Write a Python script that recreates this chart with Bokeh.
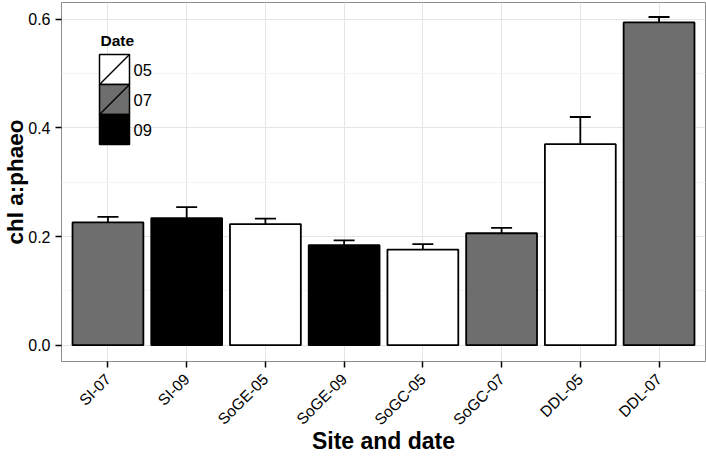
import math
from bokeh.plotting import figure
from bokeh.models import (ColumnDataSource, FactorRange, Range1d, FixedTicker, Whisker, TeeHead,
                          BoxAnnotation, Arrow, Label, NumeralTickFormatter)
from bokeh.embed import file_html
from bokeh.resources import INLINE

# ---- data ----
sites = ["SI-07", "SI-09", "SoGE-05", "SoGE-09", "SoGC-05", "SoGC-07", "DDL-05", "DDL-07"]
dates = ["07", "09", "05", "09", "05", "07", "05", "07"]
means = [0.226, 0.234, 0.223, 0.184, 0.176, 0.206, 0.370, 0.594]
errs = [0.010, 0.020, 0.010, 0.009, 0.010, 0.010, 0.050, 0.010]
date_levels = ["05", "07", "09"]
date_colors = ["#ffffff", "#6e6e6e", "#000000"]
y_ticks = [0.0, 0.2, 0.4, 0.6]
y_minor = [0.1, 0.3, 0.5]

cmap = dict(zip(date_levels, date_colors))
src = ColumnDataSource(dict(
    site=sites, mean=means,
    upper=[m + e for m, e in zip(means, errs)],
    lower=[m - e for m, e in zip(means, errs)],
    color=[cmap[d] for d in dates],
))

FONT = "Liberation Sans"

p = figure(width=706, height=457, output_backend="svg", toolbar_location=None,
           x_range=FactorRange(factors=sites, range_padding=0.09, range_padding_units="absolute"),
           y_range=Range1d(-0.030, 0.6307),
           min_border_left=60, min_border_right=1, min_border_top=2, min_border_bottom=95)

p.vbar(x="site", top="mean", bottom=0, width=0.9, source=src,
       fill_color="color", line_color="black", line_width=1.8)

wh = Whisker(base="site", upper="upper", lower="lower", source=src,
             line_color="black", line_width=1.8,
             upper_head=TeeHead(size=21, line_color="black", line_width=1.8),
             lower_head=TeeHead(size=21, line_color="black", line_width=1.8))
p.add_layout(wh)

p.background_fill_color = "white"
p.outline_line_color = "#8c8c8c"
p.outline_line_width = 1

p.yaxis.ticker = FixedTicker(ticks=y_ticks, minor_ticks=y_minor)
p.yaxis.formatter = NumeralTickFormatter(format="0.0")

for ax in (p.xaxis[0], p.yaxis[0]):
    ax.axis_line_color = None
    ax.major_tick_line_color = "black"
    ax.major_tick_line_width = 1.5
    ax.major_tick_out = 6
    ax.major_tick_in = 0
    ax.minor_tick_line_color = None
    ax.major_label_text_font = FONT
    ax.major_label_text_color = "black"
    ax.axis_label_text_font = FONT
    ax.axis_label_text_font_style = "bold"
    ax.axis_label_text_color = "black"
    ax.axis_label_text_line_height = 0.8

p.xaxis.major_label_orientation = math.pi / 4
p.xaxis.major_label_text_font_size = "15.5px"
p.xaxis.major_label_standoff = 9
p.xaxis.axis_label = "Site and date"
p.xaxis.axis_label_text_font_size = "23px"
p.xaxis.axis_label_standoff = -9

p.yaxis.major_label_text_font_size = "16px"
p.yaxis.major_label_standoff = 5
p.yaxis.axis_label = "chl a:phaeo"
p.yaxis.axis_label_text_font_size = "22.5px"
p.yaxis.axis_label_standoff = -3

p.xgrid.grid_line_color = "#e5e5e5"
p.ygrid.grid_line_color = "#e5e5e5"
p.ygrid.minor_grid_line_color = "#f4f4f4"

# legend (inside panel, top-left)
leg_left = 38
key_w = 30
key_h = 30
leg_top = 307
p.add_layout(Label(x=leg_left + 1, y=leg_top + 6, x_units="screen", y_units="screen", text="Date",
                   text_font=FONT, text_font_style="bold", text_font_size="15.5px",
                   text_color="black", text_baseline="bottom"))
for i, (lev, col) in enumerate(zip(date_levels, date_colors)):
    top = leg_top - i * key_h
    bot = top - key_h
    p.add_layout(BoxAnnotation(left=leg_left, right=leg_left + key_w, top=top, bottom=bot,
                               left_units="screen", right_units="screen",
                               top_units="screen", bottom_units="screen",
                               fill_color=col, fill_alpha=1.0,
                               line_color="black", line_alpha=1.0, line_width=1.5))
    if lev != "09":
        p.add_layout(Arrow(end=None, x_start=leg_left, y_start=bot, x_end=leg_left + key_w, y_end=top,
                           start_units="screen", end_units="screen",
                           line_color="black", line_width=1.5))
    p.add_layout(Label(x=leg_left + key_w + 4, y=(top + bot) / 2, x_units="screen", y_units="screen",
                       text=lev, text_font=FONT, text_font_size="16.5px", text_color="black",
                       text_baseline="middle"))

open("out.html", "w").write(file_html(p, INLINE))
